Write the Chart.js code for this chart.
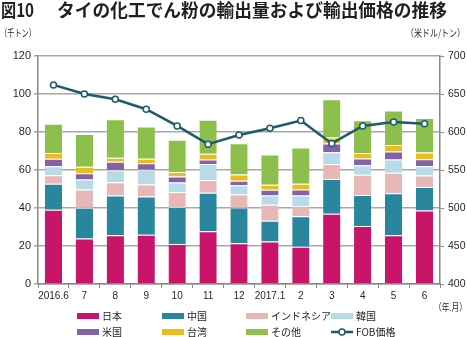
<!DOCTYPE html>
<html>
<head>
<meta charset="utf-8">
<script src="https://cdn.jsdelivr.net/npm/chart.js@4.4.1/dist/chart.umd.min.js"></script>
<style>
  html, body { margin: 0; padding: 0; background: #fff; }
</style>
</head>
<body>
<canvas id="chart" width="467" height="337"></canvas>
<script>
const months = ['2016.6', '7', '8', '9', '10', '11', '12', '2017.1', '2', '3', '4', '5', '6'];

// 輸出量 (千トン)
const japan     = [39.1, 24.0, 25.6, 25.9, 21.0, 27.7, 21.4, 22.4, 19.6, 37.0, 30.5, 25.6, 38.7];
const china     = [13.6, 16.1, 21.0, 20.2, 19.5, 20.3, 18.9, 10.9, 16.0, 18.2, 16.3, 22.1, 12.3];
const indonesia = [4.6, 9.7, 7.0, 6.3, 7.9, 6.8, 6.8, 8.4, 5.2, 7.9, 10.7, 10.8, 6.1];
const korea     = [4.7, 5.2, 6.3, 7.7, 5.0, 8.3, 4.9, 4.9, 5.8, 6.3, 5.0, 7.0, 4.9];
const usa       = [3.9, 3.3, 4.4, 3.5, 3.2, 2.4, 2.3, 3.0, 3.2, 4.5, 3.5, 4.2, 3.7];
const taiwan    = [3.1, 3.4, 2.1, 2.3, 2.4, 3.0, 3.3, 2.6, 2.9, 3.2, 2.9, 3.4, 3.5];
const others    = [15.3, 17.3, 20.3, 17.0, 16.9, 17.9, 16.5, 15.9, 19.1, 20.1, 17.3, 18.2, 18.2];

// FOB価格 (米ドル/トン)
const fobPrice  = [662, 650, 643, 630, 608, 584, 596, 605, 615, 585, 608, 613, 611];

const leftTicks = [0, 20, 40, 60, 80, 100, 120];
const rightTicks = [400, 450, 500, 550, 600, 650, 700];

const titleText = 'タイの化工でん粉の輸出量および輸出価格の推移';

const barSeries = [
  { label: '日本', data: japan, color: '#c8156a' },
  { label: '中国', data: china, color: '#2a869e' },
  { label: 'インドネシア', data: indonesia, color: '#e8b8b8' },
  { label: '韓国', data: korea, color: '#b8dbe8' },
  { label: '米国', data: usa, color: '#8562a8' },
  { label: '台湾', data: taiwan, color: '#e9bc22' },
  { label: 'その他', data: others, color: '#8cbf4c' }
];
const lineColor = '#1d5b6b';

const datasets = barSeries.map(s => ({
  type: 'bar',
  label: s.label,
  data: s.data,
  backgroundColor: s.color,
  borderColor: 'rgba(255,255,255,0.45)',
  borderWidth: { top: 1, left: 0, right: 0, bottom: 0 },
  yAxisID: 'y',
  barPercentage: 0.56,
  categoryPercentage: 1,
  order: 1
}));
datasets.push({
  type: 'line',
  label: 'FOB価格',
  data: fobPrice,
  yAxisID: 'y1',
  borderColor: lineColor,
  borderWidth: 2.5,
  pointRadius: 3,
  pointBackgroundColor: '#fff',
  pointBorderColor: lineColor,
  pointBorderWidth: 1.5,
  tension: 0,
  order: 0
});

const jp = '"Noto Sans CJK JP", sans-serif';
const txt = '#231f20';

// タイトル・単位・凡例
const decor = {
  id: 'decor',
  afterDraw(chart) {
    const ctx = chart.ctx;
    ctx.save();
    ctx.fillStyle = txt;
    ctx.textBaseline = 'middle';
    ctx.textAlign = 'left';
    ctx.font = 'bold 18px ' + jp;
    ctx.fillText('図10', 1, 10, 33);
    ctx.fillText(titleText, 57, 10, 390);

    ctx.font = '10px ' + jp;
    ctx.fillText('（千トン）', 0, 33, 36);
    ctx.textAlign = 'right';
    ctx.fillText('（米ドル/トン）', 465, 33, 59);
    ctx.fillText('（年.月）', 467, 307, 33);

    // 凡例
    const colX = [77, 162, 246, 331];
    const rowY = [316, 332];
    ctx.textAlign = 'left';
    ctx.font = '10px ' + jp;
    chart.data.datasets.forEach((ds, i) => {
      const x = colX[i % 4];
      const y = rowY[Math.floor(i / 4)];
      if (ds.type === 'bar') {
        ctx.fillStyle = ds.backgroundColor;
        ctx.fillRect(x, y - 3, 22, 6);
      } else {
        ctx.strokeStyle = ds.borderColor;
        ctx.lineWidth = 2.5;
        ctx.beginPath();
        ctx.moveTo(x, y);
        ctx.lineTo(x + 22, y);
        ctx.stroke();
        ctx.beginPath();
        ctx.arc(x + 11, y, 3, 0, Math.PI * 2);
        ctx.fillStyle = '#fff';
        ctx.fill();
        ctx.lineWidth = 1.5;
        ctx.stroke();
      }
      ctx.fillStyle = txt;
      ctx.fillText(ds.label, x + 25, y + 0.5);
    });
    ctx.restore();
  }
};

new Chart(document.getElementById('chart'), {
  data: { labels: months, datasets: datasets },
  options: {
    responsive: false,
    animation: false,
    layout: { padding: { top: 56, left: 0, right: 0, bottom: 0 } },
    plugins: { legend: { display: false }, tooltip: { enabled: false } },
    scales: {
      x: {
        stacked: true,
        offset: true,
        grid: { display: true, drawOnChartArea: false, drawTicks: true, tickLength: 4, offset: true, color: '#888' },
        border: { display: true, color: '#888', width: 1.5 },
        ticks: { color: txt, font: { family: 'Liberation Sans', size: 10 }, padding: 2, maxRotation: 0, autoSkip: false },
        afterFit(scale) { scale.height = 53; }
      },
      y: {
        stacked: true,
        position: 'left',
        min: 0,
        max: 120,
        afterBuildTicks(scale) { scale.ticks = leftTicks.map(v => ({ value: v })); },
        grid: { color: '#a8a8a8', lineWidth: 1.5, tickLength: 4, drawTicks: true },
        border: { display: true, color: '#888', width: 1.5 },
        ticks: { color: txt, font: { family: 'Liberation Sans', size: 11 }, padding: 3 },
        afterFit(scale) { scale.width = 38; }
      },
      y1: {
        position: 'right',
        min: 400,
        max: 700,
        afterBuildTicks(scale) { scale.ticks = rightTicks.map(v => ({ value: v })); },
        grid: { drawOnChartArea: false, drawTicks: true, tickLength: 4, color: '#888' },
        border: { display: true, color: '#888', width: 1.5 },
        ticks: { color: txt, font: { family: 'Liberation Sans', size: 10.5 }, padding: 4 },
        afterFit(scale) { scale.width = 27; }
      }
    }
  },
  plugins: [decor]
});
</script>
</body>
</html>
